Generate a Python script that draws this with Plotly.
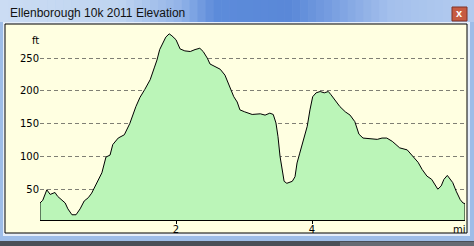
import plotly.graph_objects as go

# ---- data ----
dist_mi = [0.00, 0.04, 0.10, 0.15, 0.22, 0.26, 0.32, 0.37, 0.41, 0.47, 0.53, 0.59, 0.65, 0.71, 0.76,
           0.84, 0.91, 0.97, 1.03, 1.07, 1.15, 1.24, 1.32, 1.41, 1.47, 1.54, 1.62, 1.68, 1.72, 1.76,
           1.81, 1.85, 1.90, 1.94, 2.00, 2.06, 2.13, 2.21, 2.28, 2.35, 2.40, 2.46, 2.50, 2.57, 2.65,
           2.72, 2.79, 2.85, 2.90, 2.94, 3.01, 3.12, 3.24, 3.31, 3.38, 3.43, 3.47, 3.50, 3.53, 3.56,
           3.59, 3.63, 3.71, 3.75, 3.78, 3.82, 3.87, 3.93, 3.97, 4.01, 4.06, 4.12, 4.18, 4.24, 4.28,
           4.34, 4.41, 4.49, 4.56, 4.63, 4.69, 4.75, 4.85, 4.96, 5.03, 5.10, 5.18, 5.29, 5.40, 5.49,
           5.56, 5.62, 5.69, 5.76, 5.82, 5.85, 5.90, 5.94, 5.99, 6.03, 6.07, 6.12, 6.18, 6.22, 6.25]
elev_ft = [29, 33, 49, 42, 45, 39, 34, 29, 20, 11, 11, 20, 32, 37, 44,
           60, 75, 99, 102, 118, 128, 133, 150, 176, 190, 202, 217, 235, 247, 263,
           275, 282, 287, 284, 278, 264, 261, 260, 263, 265, 260, 250, 241, 237, 233,
           224, 207, 191, 183, 171, 168, 164, 165, 163, 166, 164, 151, 130, 100, 79,
           62, 59, 62, 69, 90, 105, 125, 146, 171, 191, 197, 199, 197, 199, 194,
           186, 176, 168, 163, 153, 134, 128, 127, 126, 128, 128, 123, 113, 110, 100,
           91, 80, 70, 65, 55, 50, 55, 65, 71, 66, 60, 47, 34, 29, 28]

y_ticks = [50, 100, 150, 200, 250]
x_ticks = [2, 4]
title_text = "Ellenborough 10k 2011 Elevation"
y_unit = "ft"
x_unit = "mi"

Y_MIN, Y_MAX = 3, 302
X_MIN, X_MAX = 0, 6.25

# ---- geometry ----
W, H = 474, 246
L, R, T, B = 40, 465, 24, 220


def px(x):
    return (x - L) / (R - L)


def py(y):
    return (B - y) / (B - T)


def rect(x0, y0, x1, y1, fill, line=None, lw=0):
    return dict(type="rect", xref="paper", yref="paper", layer="below",
                x0=px(x0), x1=px(x1), y0=py(y1), y1=py(y0),
                fillcolor=fill, line=dict(color=line or fill, width=lw))


shapes = []
# desktop strip below window
shapes.append(rect(0, 241, W, H, "#4A4F57"))
shapes.append(rect(340, 242, W, H, "#666B73"))
# title bar gradient strips
stops = [(0, (0xCB, 0xDC, 0xF3)), (120, (0xBF, 0xD4, 0xF0)), (180, (0x92, 0xB3, 0xE8)),
         (215, (0x5C, 0x8B, 0xDA)), (290, (0x5A, 0x88, 0xD8)), (340, (0x7E, 0xA3, 0xE2)),
         (390, (0xA4, 0xC0, 0xEC)), (474, (0xB4, 0xCC, 0xEF))]
n = 60
for i in range(n):
    xa = W * i / n
    xb = W * (i + 1) / n
    xm = (xa + xb) / 2
    for j in range(len(stops) - 1):
        if stops[j][0] <= xm <= stops[j + 1][0]:
            t = (xm - stops[j][0]) / (stops[j + 1][0] - stops[j][0])
            c = tuple(int(round(stops[j][1][k] + t * (stops[j + 1][1][k] - stops[j][1][k]))) for k in range(3))
            break
    shapes.append(rect(xa, 0, xb + 0.5, 22, "rgb(%d,%d,%d)" % c))
# pale highlight around client area
shapes.append(rect(3, 22, 470, 236, "#E6EEF9"))
# client area
shapes.append(rect(5, 24, 467, 233, "#FFFFE1", "#000000", 1))
# close button
shapes.append(rect(452, 7, 467, 21, "#C65B42", "#7E3326", 1))

fig = go.Figure()
fig.add_trace(go.Scatter(
    x=[dist_mi[0]] + dist_mi + [dist_mi[-1]],
    y=[Y_MIN] + elev_ft + [Y_MIN],
    mode="lines", fill="toself", fillcolor="#BBF5B8",
    line=dict(color="#000000", width=1), hoverinfo="skip", showlegend=False))

fig.update_layout(
    width=W, height=H, margin=dict(l=L, r=W - R, t=T, b=H - B),
    paper_bgcolor="#9EBDE8", plot_bgcolor="rgba(0,0,0,0)",
    showlegend=False, shapes=shapes,
    font=dict(family="DejaVu Sans", size=10, color="#000000"),
    xaxis=dict(range=[X_MIN, X_MAX], tickvals=x_ticks, ticktext=[str(v) for v in x_ticks],
               showgrid=False, zeroline=False, showline=True, linecolor="#000000", linewidth=1,
               ticks="outside", ticklen=3, tickcolor="#000000", tickwidth=1,
               ticklabelstandoff=-3),
    yaxis=dict(range=[Y_MIN, Y_MAX], tickvals=y_ticks, ticktext=[str(v) for v in y_ticks],
               showgrid=True, gridcolor="#7F7F74", gridwidth=1, griddash="4px,3px",
               zeroline=False, showline=False, ticks=""),
    annotations=[
        dict(text=title_text, xref="paper", yref="paper", x=px(8), y=py(13),
             xanchor="left", yanchor="middle", showarrow=False,
             font=dict(family="Liberation Sans", size=12, color="#111111")),
        dict(text="<b>x</b>", xref="paper", yref="paper", x=px(459.5), y=py(13.5),
             xanchor="center", yanchor="middle", showarrow=False,
             font=dict(family="Liberation Sans", size=11, color="#FFFFFF")),
        dict(text=y_unit, xref="paper", yref="paper", x=px(35), y=py(40),
             xanchor="center", yanchor="middle", showarrow=False),
        dict(text=x_unit, xref="paper", yref="paper", x=px(459), y=py(229),
             xanchor="center", yanchor="middle", showarrow=False),
    ],
)

fig.write_html("out.html")
